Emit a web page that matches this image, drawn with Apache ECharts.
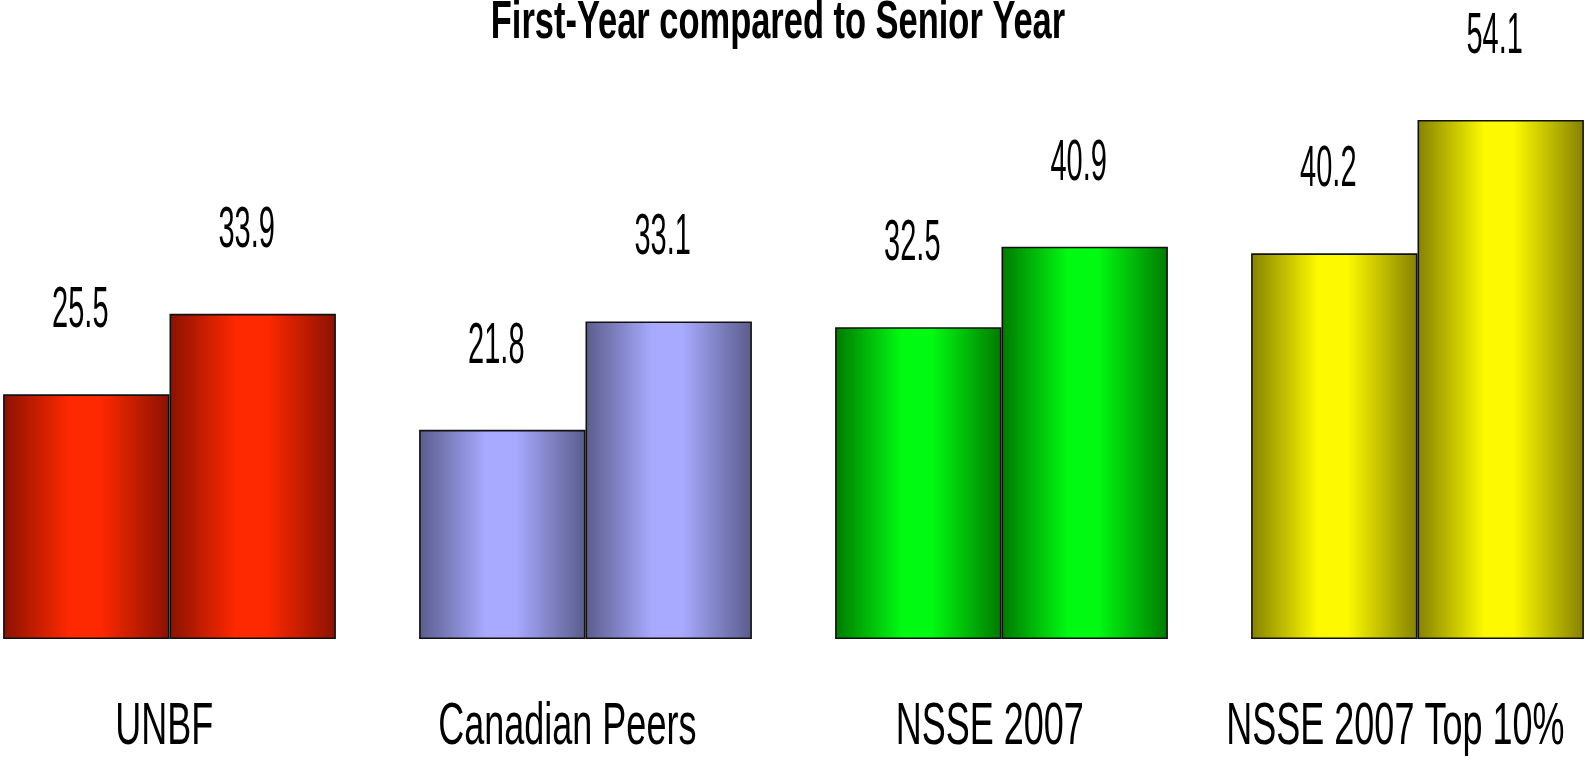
<!DOCTYPE html>
<html>
<head>
<meta charset="utf-8">
<title>First-Year compared to Senior Year</title>
<script src="https://cdn.jsdelivr.net/npm/echarts@6/dist/echarts.min.js"></script>
<style>
  html, body { margin: 0; padding: 0; background: #fff; overflow: hidden; }
  #main { width: 1585px; height: 761px; }
</style>
</head>
<body>
<div id="main"></div>
<script>
  // data
  var categories = ['UNBF', 'Canadian Peers', 'NSSE 2007', 'NSSE 2007 Top 10%']
  var firstYear = [25.5, 21.8, 32.5, 40.2]
  var seniorYear = [33.9, 33.1, 40.9, 54.1]
  var titleText = 'First-Year compared to Senior Year'

  // colours: dark edge / bright middle of every group
  var darkColors = ['#8a1200', '#5a5c8c', '#007a00', '#858200']
  var brightColors = ['#ff2900', '#a8aaff', '#00fa12', '#fcf900']

  var FONT = "'Liberation Sans', Arial, sans-serif"

  function barGradient (i) {
    return {
      type: 'linear', x: 0, y: 0, x2: 1, y2: 0,
      colorStops: [
        { offset: 0, color: darkColors[i] },
        { offset: 0.4, color: brightColors[i] },
        { offset: 0.58, color: brightColors[i] },
        { offset: 1, color: darkColors[i] }
      ]
    }
  }

  function barData (values) {
    return values.map(function (v, i) {
      return { value: v, itemStyle: { color: barGradient(i) } }
    })
  }

  // value label above each bar, squeezed like the original narrow type
  function valueLabel (side) {
    return function (params, api) {
      var p = api.coord([api.value(0), api.value(1)])
      var band = api.size([1, 0])[0]
      return {
        type: 'text',
        x: p[0] + side * band * 0.2 - 6,
        y: p[1] - 83,
        scaleX: 0.5,
        z2: 10,
        style: {
          text: api.value(1).toFixed(1),
          fontFamily: FONT,
          fontSize: 58,
          fill: '#000',
          align: 'center',
          verticalAlign: 'middle'
        }
      }
    }
  }

  // category names under the groups (the original sits a bit left of centre)
  function categoryLabel (params, api) {
    var p = api.coord([api.value(0), 0])
    var name = categories[params.dataIndex]
    return {
      type: 'text',
      x: p[0] - 1.3 * name.length,
      y: p[1] + 88,
      scaleX: 0.6,
      style: {
        text: name,
        fontFamily: FONT,
        fontSize: 60,
        fill: '#000',
        align: 'center',
        verticalAlign: 'middle'
      }
    }
  }

  var option = {
    animation: false,
    backgroundColor: '#fff',
    graphic: [{
      type: 'text',
      x: 778,
      y: 23,
      scaleX: 0.65,
      style: {
        text: titleText,
        fontFamily: FONT,
        fontWeight: 'bold',
        fontSize: 53,
        fill: '#000',
        align: 'center',
        verticalAlign: 'middle'
      }
    }],
    grid: {
      left: -38.5,
      right: -40.5,
      top: 63.4,
      bottom: 122,
      containLabel: false,
      outerBoundsMode: 'none'
    },
    xAxis: {
      type: 'category',
      data: categories,
      show: false
    },
    yAxis: {
      type: 'value',
      min: 0,
      max: 60,
      show: false
    },
    series: [
      {
        name: 'First-Year',
        type: 'bar',
        barGap: '0%',
        barCategoryGap: '20%',
        data: barData(firstYear),
        itemStyle: { borderColor: '#111', borderWidth: 1.6 }
      },
      {
        name: 'Senior Year',
        type: 'bar',
        data: barData(seniorYear),
        itemStyle: { borderColor: '#111', borderWidth: 1.6 }
      },
      {
        type: 'custom',
        clip: false,
        z: 5,
        data: firstYear.map(function (v, i) { return [categories[i], v] }),
        renderItem: valueLabel(-1)
      },
      {
        type: 'custom',
        clip: false,
        z: 5,
        data: seniorYear.map(function (v, i) { return [categories[i], v] }),
        renderItem: valueLabel(1)
      },
      {
        type: 'custom',
        clip: false,
        z: 5,
        data: categories.map(function (c) { return [c, 0] }),
        renderItem: categoryLabel
      }
    ]
  }

  var myChart = echarts.init(document.getElementById('main'))
  myChart.setOption(option)
</script>
</body>
</html>
